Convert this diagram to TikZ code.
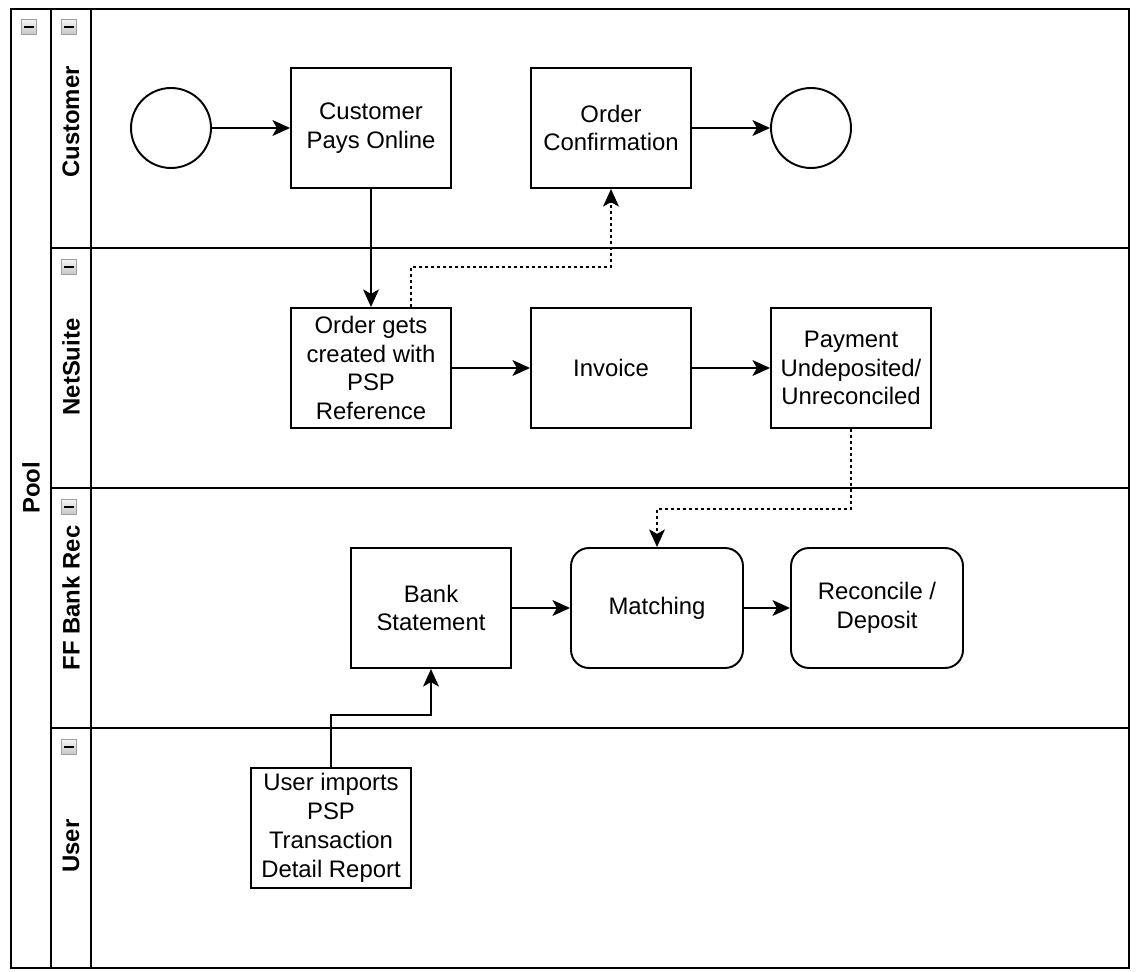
\documentclass[tikz,border=0pt]{standalone}
\usepackage{fontspec}
\setmainfont{Liberation Sans}
\usetikzlibrary{positioning,arrows.meta}

\begin{document}
\begin{tikzpicture}[x=0.02cm, y=-0.02cm,
% Node styles
 task/.style={draw, line width=1.1pt, fill=white, minimum width=3.2cm, minimum height=2.4cm,
 align=center, inner sep=1pt, font=\fontsize{13.6}{16.4}\selectfont},
 soft/.style={task, rounded corners=0.36cm, minimum width=3.44cm},
 event/.style={draw, circle, line width=1.1pt, minimum size=1.6cm},
 lanename/.style={rotate=90, font=\bfseries\fontsize{13.6}{16.4}\selectfont},
 toggle/.style={draw=gray!75, line width=0.6pt, top color=gray!8, bottom color=gray!45, minimum size=0.31cm,
 inner sep=0pt, path picture={\draw[black, line width=1.1pt]
 ([xshift=-0.1cm]path picture bounding box.center) -- ([xshift=0.1cm]path picture bounding box.center);}},
% Edge styles
 lane/.style={line width=1.1pt},
 flow/.style={draw, line width=1.1pt, -{Stealth[length=10pt, width=9pt, inset=2.5pt]}},
 msg/.style={flow, dash pattern=on 1.7pt off 1.7pt}
]
\useasboundingbox (0,0) rectangle (1136,972);

% pool and lanes
\draw[lane] (11,9) rectangle (1129,968);
\draw[lane] (51,9) -- (51,968);
\draw[lane] (91,9) -- (91,968);
\draw[lane] (51,248) -- (1129,248);
\draw[lane] (51,488) -- (1129,488);
\draw[lane] (51,728) -- (1129,728);

\node[toggle] (tpool) at (29,27) {};
\node[toggle] (tcust) at (69,27) {};
\node[toggle] (tnet) at (69,267) {};
\node[toggle] (tbank) at (69,507) {};
\node[toggle] (tuser) at (69,747) {};

\node[lanename] (pool) at (31,488) {Pool};
\node[lanename] (lcust) at (71,122) {Customer};
\node[lanename] (lnet) at (71,367) {NetSuite};
\node[lanename] (lbank) at (71,598) {FF Bank Rec};
\node[lanename] (luser) at (71,846) {User};

% Customer
\node[event] (start) at (171,128) {};
\node[task] (pays) at (371,128) {Customer\\Pays Online};
\node[task] (confirm) at (611,128) {Order\\Confirmation};
\node[event] (finish) at (811,128) {};

% NetSuite
\node[task] (order) at (371,368) {Order gets\\created with\\PSP\\Reference};
\node[task] (invoice) at (611,368) {Invoice};
\node[task] (payment) at (851,368) {Payment\\Undeposited/\\Unreconciled};

% FF Bank Rec
\node[task] (bank) at (431,608) {Bank\\Statement};
\node[soft] (matching) at (657,608) {Matching};
\node[soft] (reconcile) at (877,608) {Reconcile /\\Deposit};

% User
\node[task] (user) at (331,828) {User imports\\PSP\\Transaction\\Detail Report};

\draw[flow] (start) -- (pays);
\draw[flow] (pays) -- (order);
\draw[msg] ([xshift=0.8cm]order.north) -- ++(0,-40) -| (confirm.south);
\draw[flow] (confirm) -- (finish);
\draw[flow] (order) -- (invoice);
\draw[flow] (invoice) -- (payment);
\draw[msg] (payment.south) -- ++(0,80) -| (matching.north);
\draw[flow] (bank) -- (matching);
\draw[flow] (matching) -- (reconcile);
\draw[flow] (user.north) -- ++(0,-52) -| (bank.south);

\end{tikzpicture}
\end{document}
